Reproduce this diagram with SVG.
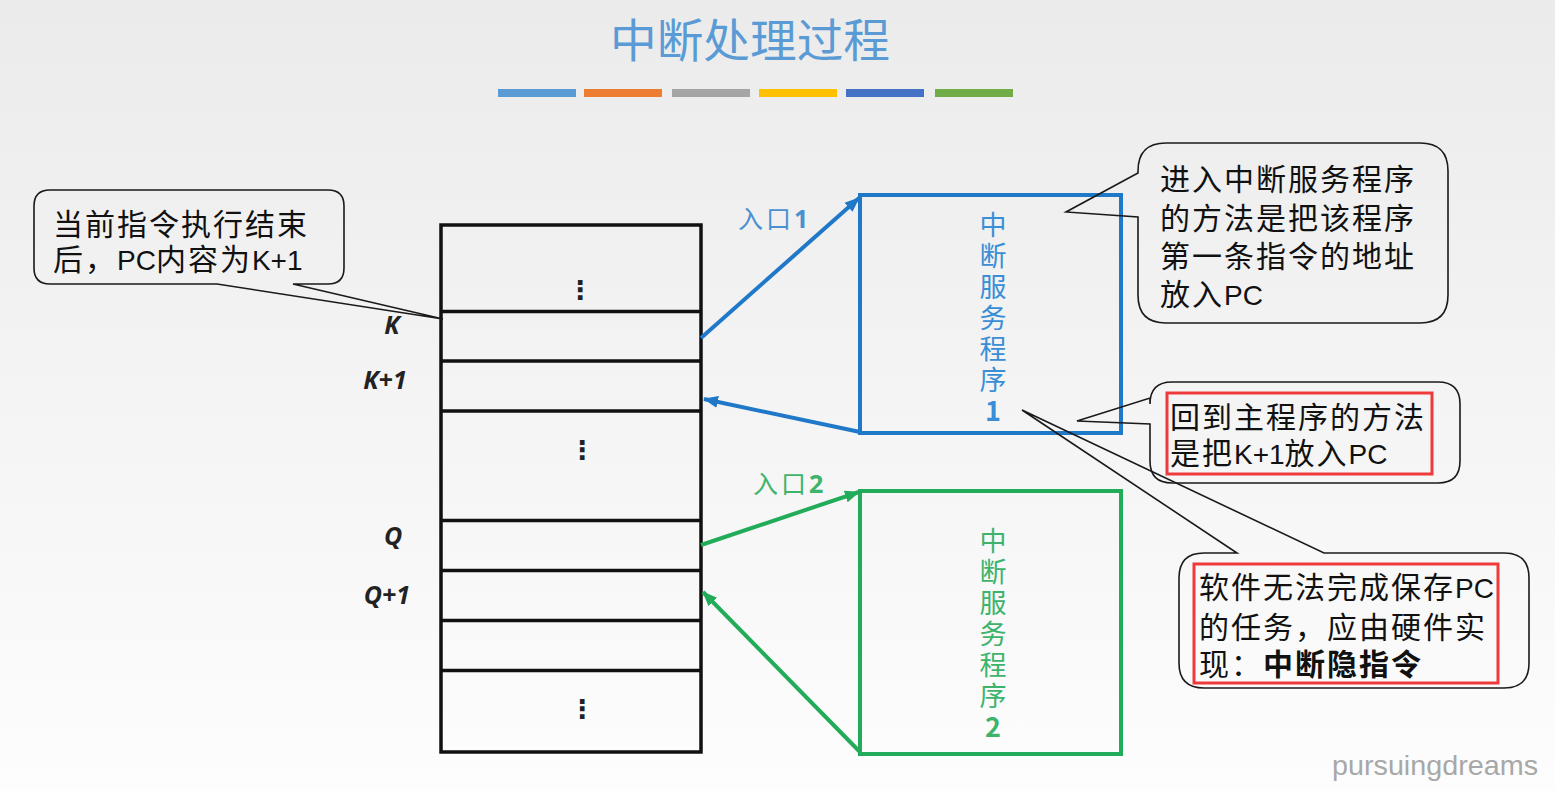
<svg xmlns="http://www.w3.org/2000/svg" width="1555" height="791" viewBox="0 0 1555 791">
<defs>
<linearGradient id="bg" x1="0" y1="0" x2="0" y2="1">
<stop offset="0" stop-color="#ebebeb"/>
<stop offset="1" stop-color="#fdfdfd"/>
</linearGradient>
<marker id="ab" markerUnits="userSpaceOnUse" markerWidth="16" markerHeight="14" refX="14" refY="7" orient="auto">
<path d="M0,1 L15,7 L0,13 Z" fill="#1f78c8"/>
</marker>
<marker id="ag" markerUnits="userSpaceOnUse" markerWidth="16" markerHeight="14" refX="14" refY="7" orient="auto">
<path d="M0,1 L15,7 L0,13 Z" fill="#22ac5a"/>
</marker>
</defs>
<style>
.cjk{font-family:"Noto Sans CJK SC","Noto Sans",sans-serif}
.call{fill:none;stroke:#1a1a1a;stroke-width:1.6}
.ct{font-family:"Liberation Sans","Noto Sans CJK SC",sans-serif;font-size:30px;fill:#111;letter-spacing:2px}
.lt{font-size:28px;letter-spacing:0}
.row{fill:none;stroke:#111;stroke-width:3.5}
.lbl{font-family:"Open Sans","Liberation Sans",sans-serif;font-size:25px;font-weight:bold;font-style:italic;fill:#222}
.dots{font-family:"DejaVu Sans",sans-serif;font-size:26px;font-weight:bold;fill:#222}
.vt{font-family:"Noto Sans CJK SC",sans-serif;font-size:27px;writing-mode:vertical-rl;text-orientation:upright;letter-spacing:4px}
.red{fill:none;stroke:#ee3a3a;stroke-width:3}
</style>
<rect x="0" y="0" width="1555" height="791" fill="url(#bg)"/>

<g id="title">
<text x="750" y="57" text-anchor="middle" class="cjk" font-size="46" fill="#5b9bd5" textLength="280" lengthAdjust="spacingAndGlyphs">中断处理过程</text>
<rect x="498" y="89" width="78" height="8" fill="#5b9bd5"/>
<rect x="584" y="89" width="78" height="8" fill="#ed7d31"/>
<rect x="672" y="89" width="78" height="8" fill="#a5a5a5"/>
<rect x="759" y="89" width="78" height="8" fill="#ffc000"/>
<rect x="846" y="89" width="78" height="8" fill="#4472c4"/>
<rect x="935" y="89" width="78" height="8" fill="#70ad47"/>
</g>

<g id="memory">
<rect x="441" y="225" width="260" height="527" fill="#f4f4f4" fill-opacity="0.5" class="row"/>
<line x1="441" y1="311.5" x2="701" y2="311.5" class="row"/>
<line x1="441" y1="361" x2="701" y2="361" class="row"/>
<line x1="441" y1="411" x2="701" y2="411" class="row"/>
<line x1="441" y1="520.5" x2="701" y2="520.5" class="row"/>
<line x1="441" y1="570.5" x2="701" y2="570.5" class="row"/>
<line x1="441" y1="620.5" x2="701" y2="620.5" class="row"/>
<line x1="441" y1="670.5" x2="701" y2="670.5" class="row"/>
<text x="580" y="299" text-anchor="middle" class="dots">⋮</text>
<text x="582" y="459" text-anchor="middle" class="dots">⋮</text>
<text x="582" y="718" text-anchor="middle" class="dots">⋮</text>
<text x="392" y="334" text-anchor="middle" class="lbl">K</text>
<text x="385" y="389" text-anchor="middle" class="lbl">K+1</text>
<text x="393" y="545" text-anchor="middle" class="lbl">Q</text>
<text x="387" y="604" text-anchor="middle" class="lbl">Q+1</text>
</g>

<g id="isr1">
<rect x="860" y="195" width="261" height="238" fill="none" stroke="#1f78c8" stroke-width="4"/>
<text class="vt" x="993" y="211" fill="#3a8ed6">中断服务程序<tspan font-weight="bold">1</tspan></text>
</g>

<g id="isr2">
<rect x="860" y="491" width="261" height="263" fill="none" stroke="#22ac5a" stroke-width="4"/>
<text class="vt" x="993" y="527" fill="#3db36b">中断服务程序<tspan font-weight="bold">2</tspan></text>
</g>

<g id="connectors">
<line x1="701" y1="338" x2="859" y2="198" stroke="#1f78c8" stroke-width="4" marker-end="url(#ab)"/>
<line x1="860" y1="432" x2="704" y2="399" stroke="#1f78c8" stroke-width="4" marker-end="url(#ab)"/>
<line x1="701" y1="545" x2="859" y2="492" stroke="#22ac5a" stroke-width="4" marker-end="url(#ag)"/>
<line x1="860" y1="752" x2="703" y2="592" stroke="#22ac5a" stroke-width="4" marker-end="url(#ag)"/>
<text x="738" y="228" class="cjk" font-size="25" fill="#4a90d0" letter-spacing="3">入口<tspan font-weight="bold" font-family="Open Sans, sans-serif">1</tspan></text>
<text x="753" y="493" class="cjk" font-size="25" fill="#3db36b" letter-spacing="3">入口<tspan font-weight="bold" font-family="Open Sans, sans-serif">2</tspan></text>
</g>

<g id="callout1">
<path class="call" d="M50,190 H328 Q344,190 344,206 V268 Q344,284 328,284 H293 L443,319 L217,284 H50 Q34,284 34,268 V206 Q34,190 50,190 Z"/>
<text class="ct"><tspan x="53" y="235">当前指令执行结束</tspan><tspan x="53" y="270">后，<tspan class="lt">PC</tspan>内容为<tspan class="lt">K+1</tspan></tspan></text>
</g>

<g id="callout2">
<path class="call" d="M1166,143 H1420 Q1448,143 1448,171 V295 Q1448,323 1420,323 H1166 Q1138,323 1138,295 V217 L1066,212 L1138,173 V171 Q1138,143 1166,143 Z"/>
<text class="ct"><tspan x="1160" y="190">进入中断服务程序</tspan><tspan x="1160" y="229">的方法是把该程序</tspan><tspan x="1160" y="267">第一条指令的地址</tspan><tspan x="1160" y="305">放入<tspan class="lt">PC</tspan></tspan></text>
</g>

<g id="callout3">
<path class="call" d="M1172,382 H1438 Q1460,382 1460,404 V461 Q1460,483 1438,483 H1172 Q1150,483 1150,461 V424 L1077,421 L1150,398 V404 Q1150,382 1172,382 Z"/>
<rect x="1167" y="393" width="265" height="81" class="red"/>
<text class="ct"><tspan x="1170" y="428">回到主程序的方法</tspan><tspan x="1170" y="464">是把<tspan class="lt">K+1</tspan>放入<tspan class="lt">PC</tspan></tspan></text>
</g>

<g id="callout4">
<path class="call" d="M1204,553 H1237 L1022,410 L1324,553 H1504 Q1529,553 1529,578 V663 Q1529,688 1504,688 H1204 Q1179,688 1179,663 V578 Q1179,553 1204,553 Z"/>
<rect x="1194" y="564" width="304" height="119" class="red"/>
<text class="ct" letter-spacing="1.5"><tspan x="1199" y="598">软件无法完成保存<tspan class="lt">PC</tspan></tspan><tspan x="1199" y="638">的任务，应由硬件实</tspan><tspan x="1199" y="675">现：</tspan><tspan font-weight="bold">中断隐指令</tspan></text>
</g>

<text x="1332" y="775" font-family="Liberation Sans, sans-serif" font-size="28" fill="#a8a8a8" textLength="206" lengthAdjust="spacingAndGlyphs">pursuingdreams</text>
</svg>
